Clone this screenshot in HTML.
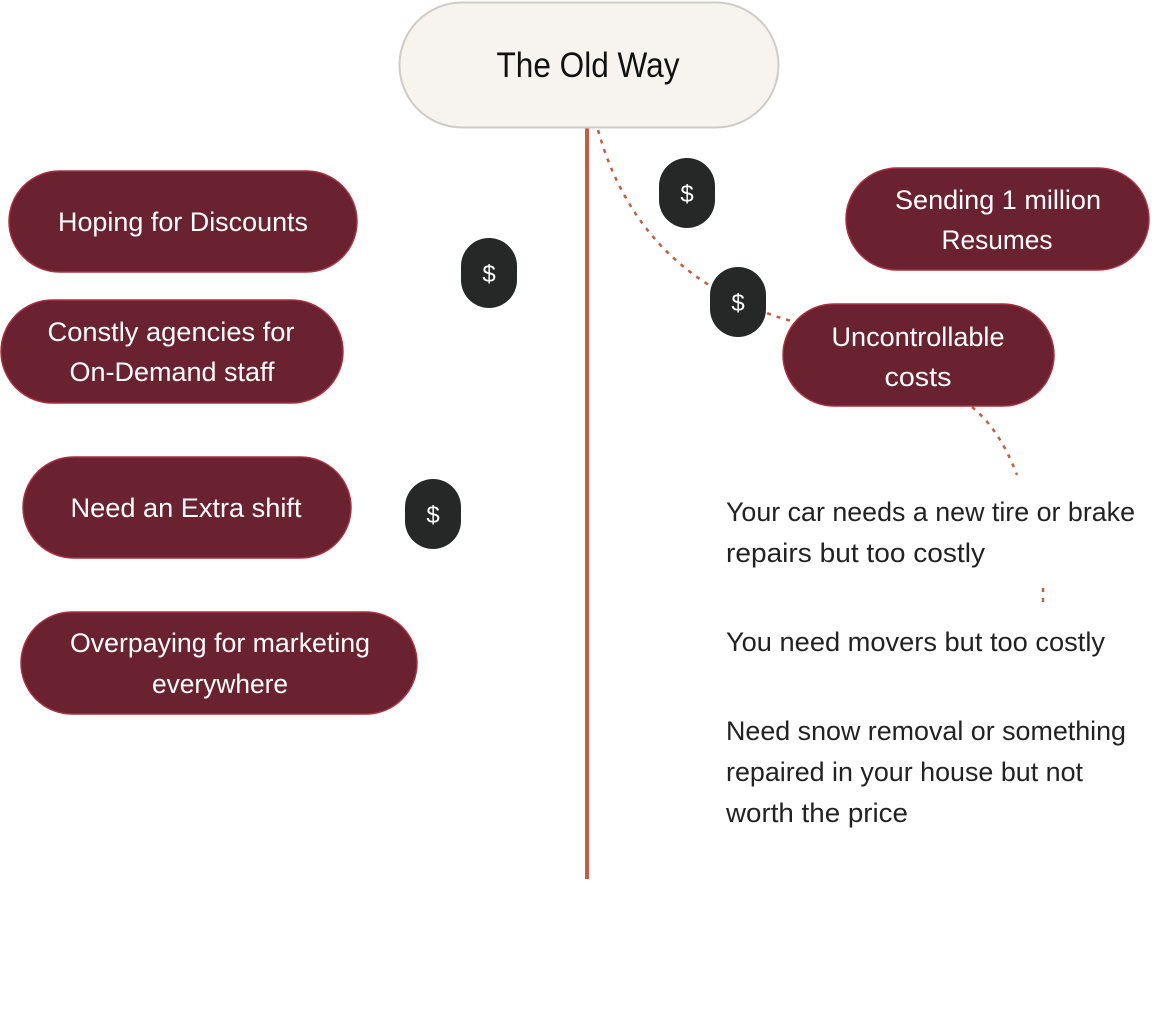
<!DOCTYPE html>
<html><head><meta charset="utf-8"><style>
html,body{margin:0;padding:0;background:#fff;}
svg{display:block;}
text{font-family:"Liberation Sans Narrow","Liberation Sans",sans-serif;}
</style></head><body>
<svg width="1175" height="1035" viewBox="0 0 1175 1035" xmlns="http://www.w3.org/2000/svg">
<rect width="1175" height="1035" fill="#fff"/>
<!-- connectors -->
<path d="M598,130 Q640,280 795,322" fill="none" stroke="#c0603f" stroke-width="2.5" stroke-dasharray="4,6"/>
<path d="M972,407 Q1000,430 1017,475" fill="none" stroke="#c0603f" stroke-width="2.5" stroke-dasharray="4,6"/>
<path d="M1043,588 L1043,605" fill="none" stroke="#c0603f" stroke-width="2.5" stroke-dasharray="4,6"/>
<rect x="585" y="128" width="4" height="751" fill="#c0603f"/>
<!-- title -->
<rect x="399.5" y="2.5" width="379" height="125" rx="62.5" fill="#f7f4ef" stroke="#cfccc7" stroke-width="2"/>
<text x="588" y="77" font-size="35" fill="#111" text-anchor="middle" textLength="183" lengthAdjust="spacingAndGlyphs">The Old Way</text>
<g fill="#6b2230" stroke="#a8303f" stroke-width="1.5">
<rect x="9" y="171" width="348" height="101" rx="50.5"/>
<rect x="1" y="300" width="342" height="103" rx="51.5"/>
<rect x="23" y="457" width="328" height="101" rx="50.5"/>
<rect x="21" y="612" width="396" height="102" rx="51"/>
<rect x="846" y="168" width="303" height="102" rx="51"/>
<rect x="783" y="304" width="271" height="102" rx="51"/>
</g>
<g fill="#262828">
<rect x="659" y="158" width="56" height="70" rx="28"/>
<rect x="461" y="238" width="56" height="70" rx="28"/>
<rect x="710" y="267" width="56" height="70" rx="28"/>
<rect x="405" y="479" width="56" height="70" rx="28"/>
</g>
<g fill="#fff" font-size="24" text-anchor="middle">
<text x="687" y="202">$</text>
<text x="489" y="282">$</text>
<text x="738" y="311">$</text>
<text x="433" y="523">$</text>
</g>
<g fill="#fff" font-size="27" text-anchor="middle" lengthAdjust="spacingAndGlyphs">
<text x="183" y="231" textLength="250" lengthAdjust="spacingAndGlyphs">Hoping for Discounts</text>
<text x="171" y="341" textLength="247" lengthAdjust="spacingAndGlyphs">Constly agencies for</text>
<text x="172" y="381" textLength="205" lengthAdjust="spacingAndGlyphs">On-Demand staff</text>
<text x="186" y="517" textLength="231" lengthAdjust="spacingAndGlyphs">Need an Extra shift</text>
<text x="220" y="652" textLength="300" lengthAdjust="spacingAndGlyphs">Overpaying for marketing</text>
<text x="220" y="693" textLength="136" lengthAdjust="spacingAndGlyphs">everywhere</text>
<text x="998" y="209" textLength="206" lengthAdjust="spacingAndGlyphs">Sending 1 million</text>
<text x="997" y="249" textLength="111" lengthAdjust="spacingAndGlyphs">Resumes</text>
<text x="918" y="346" textLength="173" lengthAdjust="spacingAndGlyphs">Uncontrollable</text>
<text x="918" y="386" textLength="67" lengthAdjust="spacingAndGlyphs">costs</text>
</g>
<g fill="#222" font-size="27">
<text x="726" y="521" textLength="409" lengthAdjust="spacingAndGlyphs">Your car needs a new tire or brake</text>
<text x="726" y="562" textLength="259" lengthAdjust="spacingAndGlyphs">repairs but too costly</text>
<text x="726" y="651" textLength="379" lengthAdjust="spacingAndGlyphs">You need movers but too costly</text>
<text x="726" y="740" textLength="400" lengthAdjust="spacingAndGlyphs">Need snow removal or something</text>
<text x="726" y="781" textLength="357" lengthAdjust="spacingAndGlyphs">repaired in your house but not</text>
<text x="726" y="822" textLength="182" lengthAdjust="spacingAndGlyphs">worth the price</text>
</g>
</svg>
</body></html>
